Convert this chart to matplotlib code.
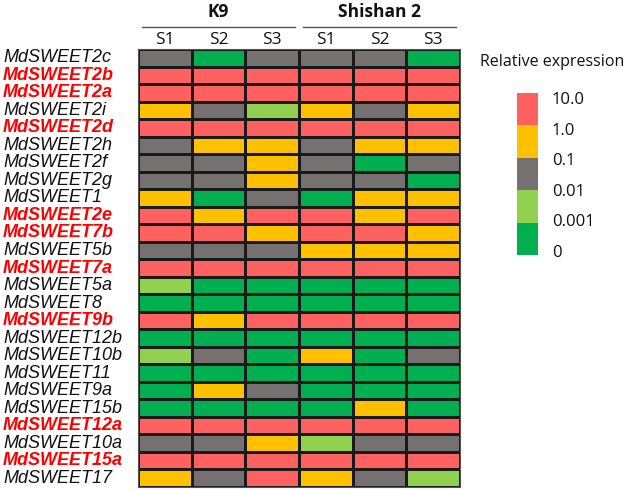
import numpy as np
import matplotlib.pyplot as plt
from matplotlib.colors import ListedColormap, BoundaryNorm
from matplotlib.transforms import blended_transform_factory

# expression class per cell: 0 = 0-0.001, 1 = 0.001-0.01, 2 = 0.01-0.1, 3 = 0.1-1, 4 = 1-10
genes = ["MdSWEET2c", "MdSWEET2b", "MdSWEET2a", "MdSWEET2i", "MdSWEET2d",
         "MdSWEET2h", "MdSWEET2f", "MdSWEET2g", "MdSWEET1", "MdSWEET2e",
         "MdSWEET7b", "MdSWEET5b", "MdSWEET7a", "MdSWEET5a", "MdSWEET8",
         "MdSWEET9b", "MdSWEET12b", "MdSWEET10b", "MdSWEET11", "MdSWEET9a",
         "MdSWEET15b", "MdSWEET12a", "MdSWEET10a", "MdSWEET15a", "MdSWEET17"]
highlighted = ["MdSWEET2b", "MdSWEET2a", "MdSWEET2d", "MdSWEET2e", "MdSWEET7b",
               "MdSWEET7a", "MdSWEET9b", "MdSWEET12a", "MdSWEET15a"]
stages = ["S1", "S2", "S3", "S1", "S2", "S3"]
cultivars = ["K9", "Shishan 2"]
levels = [
    [2, 0, 2, 2, 2, 0],
    [4, 4, 4, 4, 4, 4],
    [4, 4, 4, 4, 4, 4],
    [3, 2, 1, 3, 2, 3],
    [4, 4, 4, 4, 4, 4],
    [2, 3, 3, 2, 3, 3],
    [2, 2, 3, 2, 0, 2],
    [2, 2, 3, 2, 2, 0],
    [3, 0, 2, 0, 3, 3],
    [4, 3, 4, 4, 3, 4],
    [4, 4, 3, 4, 4, 3],
    [2, 2, 2, 3, 3, 3],
    [4, 4, 4, 4, 4, 4],
    [1, 0, 0, 0, 0, 0],
    [0, 0, 0, 0, 0, 0],
    [4, 3, 4, 4, 4, 4],
    [0, 0, 0, 0, 0, 0],
    [1, 2, 0, 3, 0, 2],
    [0, 0, 0, 0, 0, 0],
    [0, 3, 2, 0, 0, 0],
    [0, 0, 0, 0, 3, 0],
    [4, 4, 4, 4, 4, 4],
    [2, 2, 3, 1, 2, 2],
    [4, 4, 4, 4, 4, 4],
    [3, 2, 4, 3, 2, 1],
]
legend_labels = ["10.0", "1.0", "0.1", "0.01", "0.001", "0"]

colors = ["#00B050", "#92D050", "#767171", "#FFC000", "#FF6161"]
cmap = ListedColormap(colors)
norm = BoundaryNorm(np.arange(-0.5, 5.5, 1), cmap.N)

W, H = 633, 490
fig = plt.figure(figsize=(W / 100, H / 100), dpi=100)

# heatmap
ax = fig.add_axes([138 / W, 1 - 487 / H, (460 - 138) / W, (487 - 49) / H])
data = np.array(levels)
ax.pcolormesh(data, cmap=cmap, norm=norm, edgecolors="#1a1a1a", linewidth=0.8)
ax.set_xlim(0, data.shape[1])
ax.set_ylim(data.shape[0], 0)
ax.set_xticks([])
ax.set_yticks([])
for s in ax.spines.values():
    s.set_color("#555555")
    s.set_linewidth(0.8)

tr = blended_transform_factory(fig.transFigure, ax.transData)
for i, g in enumerate(genes):
    red = g in highlighted
    ax.text(3 / W, i + 0.5, g, transform=tr, ha="left", va="center",
            fontsize=13, style="italic", family="Liberation Sans",
            color="#ff0000" if red else "#111111",
            fontweight="bold" if red else "normal")

# column headers
tr2 = blended_transform_factory(ax.transData, fig.transFigure)
for j, s in enumerate(stages):
    ax.text(j + 0.5, 1 - 40 / H, s, transform=tr2, ha="center", va="center",
            fontsize=12.5, family="Open Sans", color="#111111")
for k, name in enumerate(cultivars):
    x0 = 3 * k
    ax.plot([x0 + 0.08, x0 + 2.92], [1 - 27 / H] * 2, transform=tr2,
            color="#555555", lw=1.0, clip_on=False)
    ax.text(x0 + 1.5, 1 - 12 / H, name, transform=tr2, ha="center",
            va="center", fontsize=12.5, fontweight="bold", family="Open Sans",
            color="#111111")

# legend
fig.text(480 / W, 1 - 62 / H, "Relative expression", ha="left", va="center",
         fontsize=11.5, family="Open Sans", color="#111111")
lax = fig.add_axes([517 / W, 1 - 255 / H, 21 / W, (255 - 93) / H])
bar = np.arange(len(colors))[::-1].reshape(-1, 1)
lax.pcolormesh(bar, cmap=cmap, norm=norm)
lax.set_ylim(len(colors), 0)
lax.axis("off")
ys = np.linspace(100, 253, len(legend_labels))
for y, lab in zip(ys, legend_labels):
    fig.text(552 / W, 1 - y / H, lab, ha="left", va="center",
             fontsize=12, family="Open Sans", color="#111111")

fig.savefig("out.png", dpi=100)
